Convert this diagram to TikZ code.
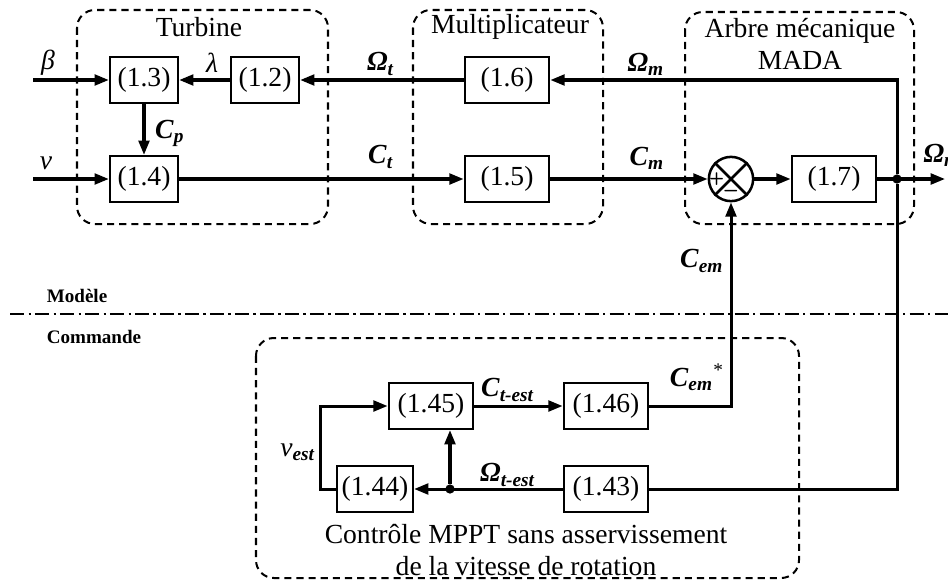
\documentclass[tikz,border=0pt]{standalone}
\usepackage{fontspec}
\setmainfont{Liberation Serif}
\usetikzlibrary{arrows.meta,positioning}
\tikzstyle{block} = [draw, line width=1pt, minimum width=1.18cm, minimum height=0.64cm, inner sep=0pt]
\tikzstyle{sblock} = [block, minimum width=0.95cm]
\tikzstyle{sum} = [draw, circle, line width=1pt, minimum size=0.62cm, inner sep=0pt]
\tikzstyle{arrow} = [line width=1.2pt, -{Triangle[length=0.2cm,width=0.15cm]}]
\tikzstyle{line} = [line width=1.2pt]
\tikzstyle{group} = [line width=0.8pt, rounded corners=0.25cm, dash pattern=on 0.1cm off 0.07cm]
\tikzstyle{dot} = [circle, fill, inner sep=0pt, minimum size=0.13cm]
\tikzstyle{zone} = [font=\fontsize{7.6}{9}\selectfont\bfseries, anchor=west]
\tikzstyle{signe} = [font=\fontsize{7}{8}\selectfont\sffamily\bfseries, inner sep=0pt]
\newcommand{\sig}[2]{\textbf{\textit{#1}}\textsubscript{\textbf{\textit{#2}}}}

\begin{document}
\begin{tikzpicture}[x=0.014cm, y=-0.014cm, font=\fontsize{11}{13}\selectfont]
\useasboundingbox (0,0) rectangle (948,581);

% groupes
\draw[group] (77,10) rectangle (328,224);
\draw[group] (413,10) rectangle (603,224);
\draw[group] (685,12) rectangle (914,224);
\draw[group] (256,338) rectangle (799,578);
\node (tturb) at (199,27) {Turbine};
\node (tmult) at (510,27) {Multiplicateur};
\node[align=center] (tarbre) at (800,44) {Arbre mécanique\\MADA};
\node[align=center] (tmppt) at (526,550) {Contrôle MPPT sans asservissement\\de la vitesse de rotation};

% modele / commande
\coordinate (dl) at (10,314);
\coordinate (dr) at (948,314);
\draw[line width=1pt, dash pattern=on 0.2cm off 0.06cm on 0.03cm off 0.06cm] (dl) -- (dr);
\node[zone] (tmod) at (38,296) {Modèle};
\node[zone] (tcom) at (38,337) {Commande};

% blocs
\node[sblock] (b13) at (144,80) {(1.3)};
\node[sblock] (b12) at (265,80) {(1.2)};
\node[sblock] (b14) at (144,179) {(1.4)};
\node[block] (b16) at (507,80) {(1.6)};
\node[block] (b15) at (507,179) {(1.5)};
\node[sum] (s) at (731,179) {};
\node[block] (b17) at (834,179) {(1.7)};
\node[dot] (j1) at (897,179) {};
\node[block] (b145) at (431,406) {(1.45)};
\node[block] (b146) at (606,406) {(1.46)};
\node[block, minimum width=1.06cm] (b144) at (375,489) {(1.44)};
\node[block] (b143) at (606,489) {(1.43)};
\node[dot] (j2) at (450,489) {};

\draw[line width=1pt] (s.north east) -- (s.south west) (s.north west) -- (s.south east);
\node[signe] (splus) at ([xshift=-0.2cm]s.center) {+};
\node[signe] (smoins) at ([yshift=-0.2cm]s.center) {−};

\coordinate (beta) at (33,80);
\coordinate (vin) at (33,179);
\coordinate (out) at (945,179);

% liaisons
\draw[arrow] (beta) -- (b13);
\draw[arrow] (vin) -- (b14);
\draw[arrow] (b12) -- (b13);
\draw[arrow] (b13) -- (b14);
\draw[arrow] (b16) -- (b12);
\draw[arrow] (j1) |- (b16);
\draw[arrow] (b14) -- (b15);
\draw[arrow] (b15) -- (s);
\draw[arrow] (s) -- (b17);
\draw[arrow] (b17) -- (out);
\draw[line] (j1) |- (b143);
\draw[arrow] (b146) -| (s);
\draw[arrow] (b143) -- (b144);
\draw[arrow] (j2) -- (j2 |- b145.south);
\draw[arrow] (b144.west) -- ++(-15,0) |- (b145);
\draw[arrow] (b145) -- (b146);

% signaux
\node (lbeta) at (48,63) {\textit{β}};
\node (lv) at (46,163) {\textit{v}};
\node (llambda) at (212,63) {\textit{λ}};
\node (lcp) at (170,133) {\sig{C}{p}};
\node (lomt) at (381,64) {\sig{Ω}{t}};
\node (lct) at (381,157) {\sig{C}{t}};
\node (lomm) at (646,64) {\sig{Ω}{m}};
\node (lcm) at (647,158) {\sig{C}{m}};
\node[anchor=west, inner sep=0pt] (lout) at (923,155) {\sig{Ω}{m}};
\node (lcem) at (702,261) {\sig{C}{em}};
\node (lcemr) at (697,377) {\sig{C}{em}\textsuperscript{*}};
\node (lctest) at (508,390) {\sig{C}{t-est}};
\node (lomtest) at (508,475) {\sig{Ω}{t-est}};
\node (lvest) at (298,452) {\textit{v}\textsubscript{\textbf{\textit{est}}}};
\end{tikzpicture}
\end{document}
